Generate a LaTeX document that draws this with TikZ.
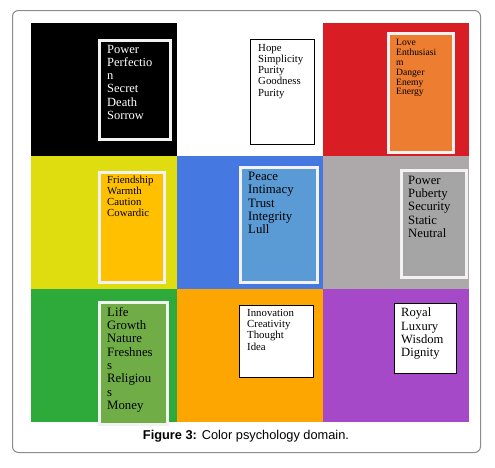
\documentclass[tikz,border=0pt]{standalone}
\usepackage{fontspec}
\setmainfont{Liberation Serif}
\newfontfamily\capfont{Liberation Sans}
\usetikzlibrary{positioning, shadows}
\definecolor{cellred}{RGB}{216, 30, 36}
\definecolor{cellyellow}{RGB}{223, 221, 15}
\definecolor{cellblue}{RGB}{69, 121, 225}
\definecolor{cellgray}{RGB}{173, 169, 170}
\definecolor{cellgreen}{RGB}{45, 170, 58}
\definecolor{cellorange}{RGB}{253, 165, 0}
\definecolor{cellpurple}{RGB}{165, 73, 201}
\definecolor{cardorange}{RGB}{237, 125, 49}
\definecolor{cardyellow}{RGB}{255, 192, 0}
\definecolor{cardblue}{RGB}{91, 155, 213}
\definecolor{cardgray}{RGB}{165, 165, 165}
\definecolor{cardgreen}{RGB}{112, 173, 71}
\definecolor{cardframe}{RGB}{242, 242, 242}
\tikzset{
  cell/.style={inner sep=0pt, minimum width=146pt, minimum height=133pt, anchor=north west},
  card/.style={draw=cardframe, line width=3pt, inner sep=0pt, anchor=north west,
               drop shadow={shadow xshift=1.5pt, shadow yshift=-1.5pt, opacity=0.35}},
  note/.style={draw=black, line width=1pt, fill=white, inner sep=0pt, anchor=north west},
  words/.style={anchor=north west, inner sep=0pt, align=left},
}

\begin{document}
\begin{tikzpicture}[x=1pt, y=-1pt]
  \useasboundingbox (0,0) rectangle (495,467);
  \node[draw=black!45, line width=1pt, rounded corners=6pt, anchor=north west,
        minimum width=468pt, minimum height=442pt] (frame) at (12,10) {};

  % colour cells
  \foreach \name/\col/\x/\y in {black/black/31/23, white/white/177/23, red/cellred/323/23,
      yellow/cellyellow/31/156, blue/cellblue/177/156, gray/cellgray/323/156,
      green/cellgreen/31/289, orange/cellorange/177/289, purple/cellpurple/323/289}
    \node[cell, fill=\col] (\name) at (\x,\y) {};

  % cards
  \node[card, fill=black, minimum width=71pt, minimum height=99pt] (blackcard) at (97.5,38.5) {};
  \node[note, minimum width=64pt, minimum height=105pt] (whitecard) at (249.5,38.5) {};
  \node[card, fill=cardorange, minimum width=65pt, minimum height=119pt] (redcard) at (386.5,31.5) {};
  \node[card, fill=cardyellow, minimum width=65pt, minimum height=110pt] (yellowcard) at (97.5,170.5) {};
  \node[card, fill=cardblue, minimum width=77pt, minimum height=115pt] (bluecard) at (238.5,165.5) {};
  \node[card, fill=cardgray, minimum width=65pt, minimum height=107pt] (graycard) at (399.5,168.5) {};
  \node[card, drop shadow={opacity=0}, fill=cardgreen, minimum width=68pt, minimum height=122pt] (greencard) at (97.5,300.5) {};
  \node[note, minimum width=74pt, minimum height=72pt] (orangecard) at (238.5,304.5) {};
  \node[note, minimum width=62pt, minimum height=70pt] (purplecard) at (393.5,302.5) {};

  % card texts
  \node[words, text=white, font=\fontsize{12.5}{13.2}\selectfont] (blacktext) at (107,45)
    {Power\\Perfectio\\n\\Secret\\Death\\Sorrow};
  \node[words, font=\fontsize{10.8}{11.2}\selectfont] (whitetext) at (258,44)
    {Hope\\Simplicity\\Purity\\Goodness\\Purity};
  \node[words, font=\fontsize{9.6}{9.8}\selectfont] (redtext) at (396,39.5)
    {Love\\Enthusiasi\\m\\Danger\\Enemy\\Energy};
  \node[words, font=\fontsize{10.8}{11}\selectfont] (yellowtext) at (107,176)
    {Friendship\\Warmth\\Caution\\Cowardic};
  \node[words, font=\fontsize{12.8}{13.3}\selectfont] (bluetext) at (248,172)
    {Peace\\Intimacy\\Trust\\Integrity\\Lull};
  \node[words, font=\fontsize{12.7}{13.2}\selectfont] (graytext) at (408,176)
    {Power\\Puberty\\Security\\Static\\Neutral};
  \node[words, font=\fontsize{12.8}{13.3}\selectfont] (greentext) at (107,307)
    {Life\\Growth\\Nature\\Freshnes\\s\\Religiou\\s\\Money};
  \node[words, font=\fontsize{10.8}{11.3}\selectfont] (orangetext) at (247,309)
    {Innovation\\Creativity\\Thought\\Idea};
  \node[words, font=\fontsize{12.6}{13.3}\selectfont] (purpletext) at (401,308)
    {Royal\\Luxury\\Wisdom\\Dignity};

  \node[font=\capfont\fontsize{12.8}{15}\selectfont] (caption) at (246,436)
    {\textbf{Figure 3:} Color psychology domain.};
\end{tikzpicture}
\end{document}
